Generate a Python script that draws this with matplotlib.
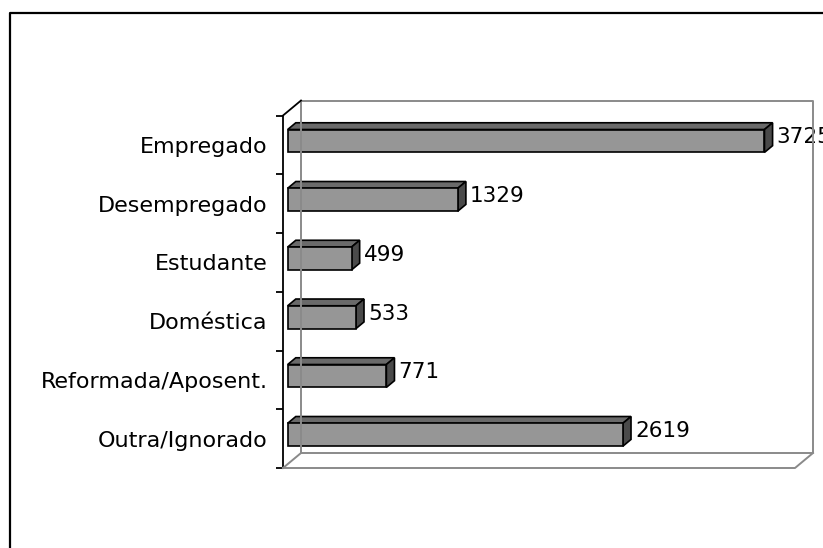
import matplotlib
matplotlib.use("Agg")
import matplotlib.pyplot as plt
from matplotlib.patches import Polygon
from matplotlib.lines import Line2D
from matplotlib.transforms import IdentityTransform

# dados
categorias = ["Empregado", "Desempregado", "Estudante", "Doméstica",
              "Reformada/Aposent.", "Outra/Ignorado"]
valores = [3725, 1329, 499, 533, 771, 2619]
x_max = 4000

# profundidade 3D (pixels) e posição das barras dentro dela
DX, DY = 18, 15
FRENTE, FUNDO = 0.26, 0.71
ALTURA = 0.39

plt.rcParams["font.family"] = ["DejaVu Sans"]

fig = plt.figure(figsize=(8.23, 5.48), dpi=100)
ax = fig.add_axes([283 / 823, 80 / 548, 512 / 823, 352.5 / 548])
ax.set_xlim(0, x_max)
ax.set_ylim(len(categorias) - 0.5, -0.5)
ax.patch.set_visible(False)

for s in ["top", "right", "bottom"]:
    ax.spines[s].set_visible(False)
ax.spines["left"].set_linewidth(1.3)
ax.set_xticks([])
ax.set_yticks(range(len(categorias)))
ax.set_yticklabels(categorias, fontsize=16)
ax.tick_params(axis="y", which="major", length=0, pad=11)
ax.set_yticks([i - 0.5 for i in range(len(categorias) + 1)], minor=True)
ax.tick_params(axis="y", which="minor", length=5, width=1.3, direction="out")


def px(x, y, d=0.0):
    X, Y = ax.transData.transform((x, y))
    return (X + DX * d, Y + DY * d)


def linha(pts, cor="#8a8a8a", lw=1.4):
    xs, ys = zip(*pts)
    fig.add_artist(Line2D(xs, ys, color=cor, lw=lw, transform=IdentityTransform(),
                          solid_capstyle="projecting"))


y_top, y_bot = -0.5, len(categorias) - 0.5

# parede do fundo
linha([px(0, y_top, 1), px(x_max, y_top, 1), px(x_max, y_bot, 1),
       px(0, y_bot, 1), px(0, y_top, 1)])
# chão
linha([px(0, y_bot, 0), px(x_max, y_bot, 0), px(x_max, y_bot, 1)])
linha([px(0, y_bot, 0), px(0, y_bot, 1)])
# aresta superior do eixo
linha([px(0, y_top, 0), px(0, y_top, 1)], cor="black", lw=1.3)

# barras 3D
for i, v in enumerate(valores):
    y0, y1 = i - ALTURA / 2, i + ALTURA / 2
    faces = [
        ([px(0, y0, FRENTE), px(v, y0, FRENTE), px(v, y0, FUNDO), px(0, y0, FUNDO)], "#6a6a6a"),
        ([px(v, y0, FRENTE), px(v, y1, FRENTE), px(v, y1, FUNDO), px(v, y0, FUNDO)], "#4a4a4a"),
        ([px(0, y0, FRENTE), px(v, y0, FRENTE), px(v, y1, FRENTE), px(0, y1, FRENTE)], "#969696"),
    ]
    for pts, cor in faces:
        fig.add_artist(Polygon(pts, closed=True, facecolor=cor, edgecolor="black",
                               lw=1.2, joinstyle="miter", transform=IdentityTransform()))
    ax.annotate(str(v), xy=(v, i), xytext=(DX * FUNDO + 4, 7.5),
                textcoords="offset pixels", ha="left", va="center",
                fontsize=15.5, annotation_clip=False)

# moldura exterior
fig.add_artist(Line2D([9.5 / 823, 9.5 / 823, 1.0], [0.0, 1 - 12.5 / 548, 1 - 12.5 / 548],
                      color="black", lw=1.6, transform=fig.transFigure))

fig.savefig("out.png", dpi=100, facecolor="white")
